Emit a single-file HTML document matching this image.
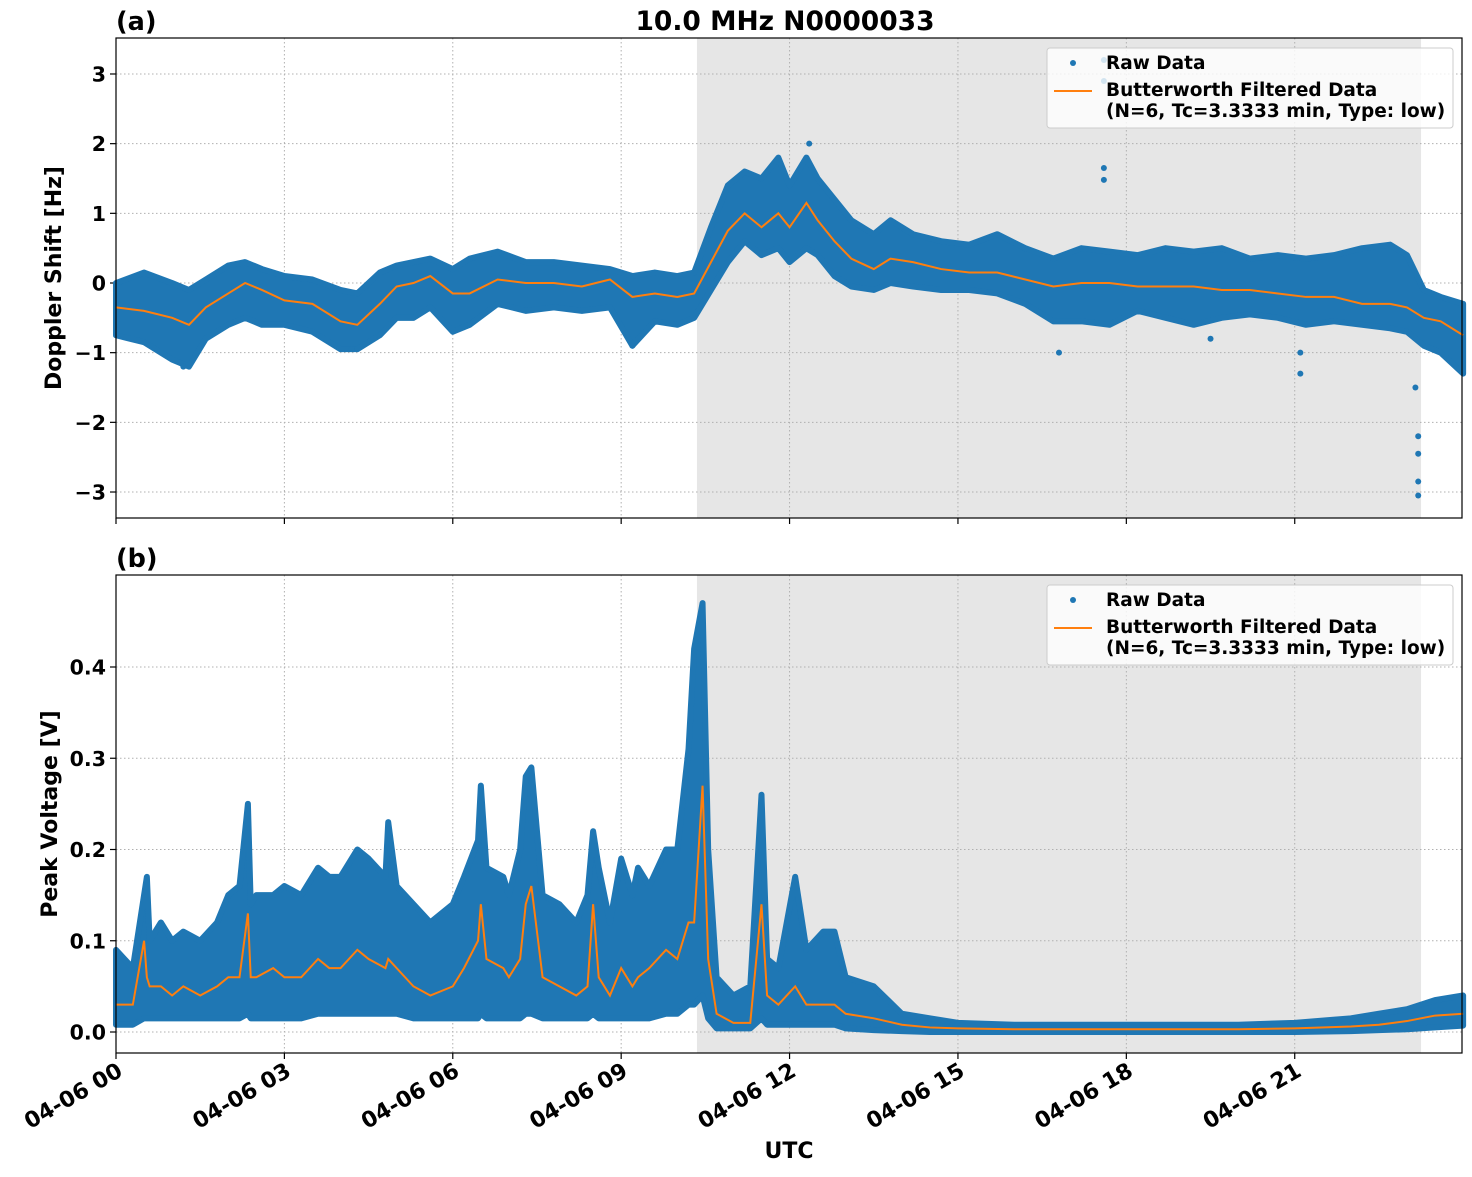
<!DOCTYPE html>
<html><head><meta charset="utf-8"><style>
body{margin:0;background:#fff;}
svg text{font-family:"DejaVu Sans","Liberation Sans",sans-serif;font-weight:bold;}
</style></head><body>
<svg id="fig" width="1472" height="1172" xmlns="http://www.w3.org/2000/svg"></svg>
<script>
// ---- Panel (a) data: Doppler shift ----
const aTimes=[0,0.5,1.0,1.3,1.6,2.0,2.3,2.6,3.0,3.5,4.0,4.3,4.7,5.0,5.3,5.6,6.0,6.3,6.8,7.3,7.8,8.3,8.8,9.2,9.6,10.0,10.3,10.6,10.9,11.2,11.5,11.8,12.0,12.3,12.5,12.8,13.1,13.5,13.8,14.2,14.7,15.2,15.7,16.2,16.7,17.2,17.7,18.2,18.7,19.2,19.7,20.2,20.7,21.2,21.7,22.2,22.7,23.0,23.3,23.6,24.0];
const aFilt=[-0.35,-0.4,-0.5,-0.6,-0.35,-0.15,0.0,-0.1,-0.25,-0.3,-0.55,-0.6,-0.3,-0.05,0.0,0.1,-0.15,-0.15,0.05,0.0,0.0,-0.05,0.05,-0.2,-0.15,-0.2,-0.15,0.3,0.75,1.0,0.8,1.0,0.8,1.15,0.9,0.6,0.35,0.2,0.35,0.3,0.2,0.15,0.15,0.05,-0.05,0.0,0.0,-0.05,-0.05,-0.05,-0.1,-0.1,-0.15,-0.2,-0.2,-0.3,-0.3,-0.35,-0.5,-0.55,-0.75];
const aLo=[-0.75,-0.85,-1.1,-1.2,-0.8,-0.6,-0.5,-0.6,-0.6,-0.7,-0.95,-0.95,-0.75,-0.5,-0.5,-0.35,-0.7,-0.6,-0.3,-0.4,-0.35,-0.4,-0.35,-0.9,-0.55,-0.6,-0.5,-0.1,0.3,0.6,0.4,0.5,0.3,0.5,0.4,0.1,-0.05,-0.1,0.0,-0.05,-0.1,-0.1,-0.15,-0.3,-0.55,-0.55,-0.6,-0.4,-0.5,-0.6,-0.5,-0.45,-0.5,-0.6,-0.55,-0.6,-0.65,-0.7,-0.9,-1.0,-1.3];
const aHi=[0.0,0.15,0.0,-0.1,0.05,0.25,0.3,0.2,0.1,0.05,-0.1,-0.15,0.15,0.25,0.3,0.35,0.2,0.35,0.45,0.3,0.3,0.25,0.2,0.1,0.15,0.1,0.15,0.8,1.4,1.6,1.5,1.8,1.4,1.8,1.5,1.2,0.9,0.7,0.9,0.7,0.6,0.55,0.7,0.5,0.35,0.5,0.45,0.4,0.5,0.45,0.5,0.35,0.4,0.35,0.4,0.5,0.55,0.4,-0.1,-0.2,-0.3];
const aOutT=[17.6,17.6,17.6,17.6,23.15,23.2,23.2,23.2,23.2,21.1,21.1,19.5,16.8,12.35,1.2,4.2,9.2];
const aOutV=[1.65,1.48,2.9,3.2,-1.5,-2.2,-2.45,-2.85,-3.05,-1.0,-1.3,-0.8,-1.0,2.0,-1.2,-0.95,-0.9];
const aTicks=[-3,-2,-1,0,1,2,3];
const aTickLabels=["\u22123","\u22122","\u22121","0","1","2","3"];
// ---- Panel (b) data: Peak voltage ----
const bTimes=[0,0.3,0.5,0.55,0.6,0.8,1.0,1.2,1.5,1.8,2.0,2.2,2.35,2.4,2.5,2.8,3.0,3.3,3.6,3.8,4.0,4.3,4.5,4.8,4.85,5.0,5.3,5.6,6.0,6.2,6.45,6.5,6.6,6.9,7.0,7.2,7.3,7.4,7.6,7.9,8.2,8.4,8.5,8.6,8.8,9.0,9.2,9.3,9.5,9.8,10.0,10.2,10.3,10.45,10.55,10.7,11.0,11.3,11.5,11.6,11.8,12.1,12.3,12.6,12.8,13.0,13.5,14.0,14.5,15,16,17,18,19,20,21,22,22.5,23,23.5,24];
const bHi=[0.09,0.07,0.15,0.17,0.1,0.12,0.1,0.11,0.1,0.12,0.15,0.16,0.25,0.14,0.15,0.15,0.16,0.15,0.18,0.17,0.17,0.2,0.19,0.17,0.23,0.16,0.14,0.12,0.14,0.17,0.21,0.27,0.18,0.17,0.15,0.2,0.28,0.29,0.15,0.14,0.12,0.15,0.22,0.18,0.12,0.19,0.15,0.18,0.16,0.2,0.2,0.31,0.42,0.47,0.2,0.06,0.04,0.05,0.26,0.08,0.07,0.17,0.09,0.11,0.11,0.06,0.05,0.02,0.015,0.01,0.008,0.008,0.008,0.008,0.008,0.01,0.015,0.02,0.025,0.035,0.04];
const bLo=[0.008,0.008,0.015,0.015,0.015,0.015,0.015,0.015,0.015,0.015,0.015,0.015,0.02,0.015,0.015,0.015,0.015,0.015,0.02,0.02,0.02,0.02,0.02,0.02,0.02,0.02,0.015,0.015,0.015,0.015,0.015,0.02,0.015,0.015,0.015,0.015,0.02,0.02,0.015,0.015,0.015,0.015,0.02,0.015,0.015,0.015,0.015,0.015,0.015,0.02,0.02,0.03,0.03,0.04,0.015,0.004,0.004,0.004,0.015,0.008,0.008,0.008,0.008,0.008,0.008,0.004,0.002,0.001,0.0,0.0,0.0,0.0,0.0,0.0,0.0,0.0,0.001,0.002,0.003,0.005,0.007];
const bFilt=[0.03,0.03,0.1,0.06,0.05,0.05,0.04,0.05,0.04,0.05,0.06,0.06,0.13,0.06,0.06,0.07,0.06,0.06,0.08,0.07,0.07,0.09,0.08,0.07,0.08,0.07,0.05,0.04,0.05,0.07,0.1,0.14,0.08,0.07,0.06,0.08,0.14,0.16,0.06,0.05,0.04,0.05,0.14,0.06,0.04,0.07,0.05,0.06,0.07,0.09,0.08,0.12,0.12,0.27,0.08,0.02,0.01,0.01,0.14,0.04,0.03,0.05,0.03,0.03,0.03,0.02,0.015,0.008,0.005,0.004,0.003,0.003,0.003,0.003,0.003,0.004,0.006,0.008,0.012,0.018,0.02];
const bTicks=[0,0.1,0.2,0.3,0.4];
const bTickLabels=["0.0","0.1","0.2","0.3","0.4"];
const xTicks=[0,3,6,9,12,15,18,21];
const xTickLabels=["04-06 00","04-06 03","04-06 06","04-06 09","04-06 12","04-06 15","04-06 18","04-06 21"];
const shadeStart=10.35, shadeEnd=23.25;

const NS="http://www.w3.org/2000/svg";
const svg=document.getElementById('fig');
const X0=116,X1=1462;
const xs=h=>X0+h*56.13;
function el(tag,attrs,parent){const e=document.createElementNS(NS,tag);for(const k in attrs)e.setAttribute(k,attrs[k]);(parent||svg).appendChild(e);return e;}

function panel(cfg){
  const g=el('g',{});
  
  
  const ys=cfg.ys;
  const sh=el('rect',{x:xs(shadeStart),y:cfg.top,width:xs(shadeEnd)-xs(shadeStart),height:cfg.bot-cfg.top,fill:'#e6e6e6'},g);
  
  
  xTicks.forEach(t=>{const l=el('line',{x1:xs(t),x2:xs(t),y1:cfg.top,y2:cfg.bot,stroke:'#b0b0b0','stroke-dasharray':'1.5,2.5','stroke-width':1},g);
    });
  cfg.ticks.forEach((t,i)=>{const l=el('line',{x1:X0,x2:X1,y1:ys(t),y2:ys(t),stroke:'#b0b0b0','stroke-dasharray':'1.5,2.5','stroke-width':1},g);
    
    const tk=el('line',{x1:X0-6,x2:X0,y1:ys(t),y2:ys(t),stroke:'#000','stroke-width':1.2},g);
    
    const tx=el('text',{x:X0-10,y:ys(t)+7.5,'text-anchor':'end','font-size':20.5},g);tx.textContent=cfg.labels[i];
    });
  let pts=cfg.t.map((t,i)=>xs(t)+','+ys(cfg.hi[i]));
  for(let i=cfg.t.length-1;i>=0;i--)pts.push(xs(cfg.t[i])+','+ys(cfg.lo[i]));
  const band=el('polygon',{points:pts.join(' '),fill:'#1f77b4',stroke:'#1f77b4','stroke-width':6,'stroke-linejoin':'round'},g);
  
  (cfg.outT||[]).forEach((t,i)=>{const c=el('circle',{cx:xs(t),cy:ys(cfg.outV[i]),r:3,fill:'#1f77b4'},g);
    });
  const line=el('polyline',{points:cfg.t.map((t,i)=>xs(t)+','+ys(cfg.filt[i])).join(' '),fill:'none',stroke:'#ff7f0e','stroke-width':2},g);
  
  const fr=el('rect',{x:X0,y:cfg.top,width:X1-X0,height:cfg.bot-cfg.top,fill:'none',stroke:'#000','stroke-width':1.2},g);
  
  xTicks.forEach(t=>{const tk=el('line',{x1:xs(t),x2:xs(t),y1:cfg.bot,y2:cfg.bot+6,stroke:'#000','stroke-width':1.2},g);
    });
  const pl=el('text',{x:116,y:cfg.top-8,'font-size':25.5},g);pl.textContent=cfg.panelLabel;
  
  const yl=el('text',{x:0,y:0,'font-size':22,'text-anchor':'middle',transform:`translate(${cfg.ylx},${(cfg.top+cfg.bot)/2}) rotate(-90)`},g);yl.textContent=cfg.ylabel;
  
  const lg=el('g',{},g);
  const ly=cfg.top+10;
  el('rect',{x:1047,y:ly,width:406,height:80,rx:3,fill:'#fff','fill-opacity':0.8,stroke:'#ccc'},lg);
  const ld=el('circle',{cx:1073,cy:ly+15,r:3,fill:'#1f77b4'},lg);
  const lt1=el('text',{x:1106,y:ly+21,'font-size':18.5},lg);lt1.textContent='Raw Data';
  const ll=el('line',{x1:1054,x2:1092,y1:ly+43,y2:ly+43,stroke:'#ff7f0e','stroke-width':2},lg);
  const lt2=el('text',{x:1106,y:ly+48,'font-size':18.5},lg);lt2.textContent='Butterworth Filtered Data';
  const lt3=el('text',{x:1106,y:ly+69,'font-size':18.5},lg);lt3.textContent='(N=6, Tc=3.3333 min, Type: low)';
}
panel({name:'panel-a-doppler',top:38,bot:518,ys:v=>283-v*69.67,ticks:aTicks,labels:aTickLabels,t:aTimes,hi:aHi,lo:aLo,filt:aFilt,outT:aOutT,outV:aOutV,panelLabel:'(a)',ylabel:'Doppler Shift [Hz]',ylx:61});
panel({name:'panel-b-voltage',top:575,bot:1053,ys:v=>1032-v*912.5,ticks:bTicks,labels:bTickLabels,t:bTimes,hi:bHi,lo:bLo,filt:bFilt,panelLabel:'(b)',ylabel:'Peak Voltage [V]',ylx:57});
xTicks.forEach((t,i)=>{const tx=el('text',{x:0,y:0,'font-size':22,'text-anchor':'end',transform:`translate(${xs(t)+8},${1075}) rotate(-30)`});tx.textContent=xTickLabels[i];
  });
const xt=el('text',{x:789,y:1158,'font-size':22,'text-anchor':'middle'});xt.textContent='UTC';

const ti=el('text',{x:785,y:30,'font-size':26.5,'text-anchor':'middle'});ti.textContent='10.0 MHz N0000033';

</script>
</body></html>
